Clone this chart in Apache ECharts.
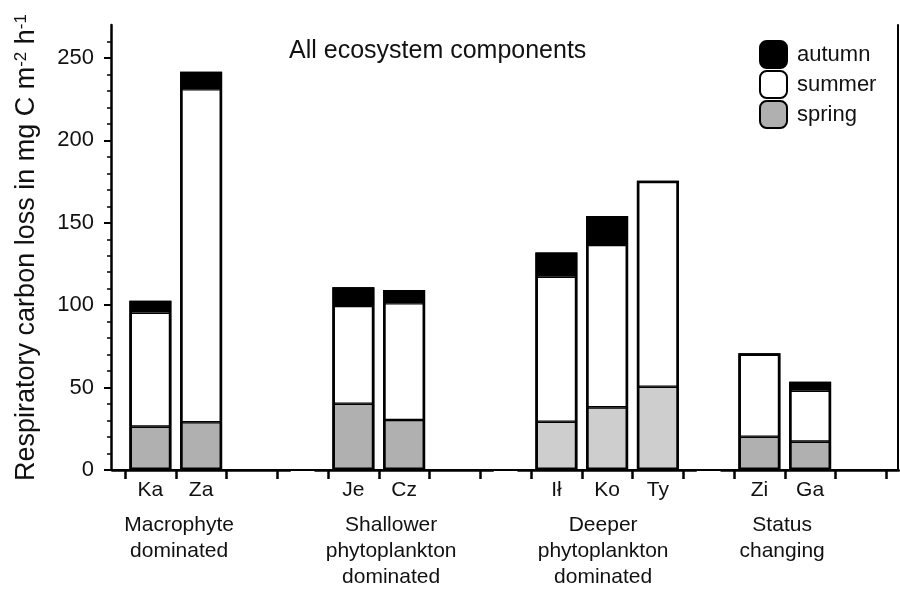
<!DOCTYPE html>
<html>
<head>
<meta charset="utf-8">
<script src="https://cdn.jsdelivr.net/npm/echarts@6/dist/echarts.min.js"></script>
<style>
html,body{margin:0;padding:0;background:#fff;}
#c{width:900px;height:590px;}
</style>
</head>
<body>
<div id="c"></div>
<script>
// ---- data ----
const lakes = ['Ka', 'Za', 'Je', 'Cz', 'Ił', 'Ko', 'Ty', 'Zi', 'Ga'];
const lakeGroup = [0, 0, 1, 1, 2, 2, 2, 3, 3];
const groupNames = ['Macrophyte\ndominated', 'Shallower\nphytoplankton\ndominated', 'Deeper\nphytoplankton\ndominated', 'Status\nchanging'];
const spring = [26.3, 29, 40.2, 30.3, 29.3, 38, 50.5, 20.2, 17.2];
const summer = [69.2, 202, 59.3, 70.9, 88, 98.5, 125, 50.6, 30.9];
const autumn = [7.2, 10.7, 11.4, 8, 14.6, 17.6, 0, 0, 5.5];
const seasons = ['autumn', 'summer', 'spring'];
const yTicks = [0, 50, 100, 150, 200, 250];
const yMinorTicks = [10, 20, 30, 40, 60, 70, 80, 90, 110, 120, 130, 140, 160, 170, 180, 190, 210, 220, 230, 240, 260];
const yMax = 270;
const title = 'All ecosystem components';

// ---- layout / style ----
const FONT = '"Liberation Sans", Arial, sans-serif';
const slotW = 50.75, firstTick = 125, plotTop = 25, plotBottom = 470, H = 590, W = 900;
const springColor = '#b0b0b0', springLight = '#cecece';
const nameShift = [44, 26, 8, 56];
const SUB = 7; // half-slot categories per group: tick, bar, tick, bar, tick, bar, tick
const segBorder = 1.3, outlineBorder = 2.6;

const chart = echarts.init(document.getElementById('c'), null, {renderer: 'canvas'});

const grids = [{left: 111, right: W - 898, top: plotTop, bottom: H - plotBottom, outerBoundsMode: 'none'}];
const xAxes = [{
  gridIndex: 0, type: 'value', position: 'top', min: 0, max: 1,
  axisLine: {show: true, lineStyle: {color: '#000', width: 2}},
  axisTick: {show: false}, axisLabel: {show: false}, splitLine: {show: false}
}];
const yAxes = [
  {
    gridIndex: 0, type: 'value', position: 'left', min: 0, max: yMax,
    axisLine: {show: true, lineStyle: {color: '#000', width: 2.5}},
    axisTick: {show: true, customValues: yTicks, length: 7, lineStyle: {color: '#000', width: 2}},
    axisLabel: {show: true, customValues: yTicks, margin: 17, color: '#111', fontSize: 22, fontFamily: FONT},
    splitLine: {show: false},
    name: '{a|Respiratory carbon loss in mg C m}{s|-2}{a| h}{s|-1}',
    nameLocation: 'middle', nameGap: 71,
    nameTextStyle: {
      color: '#111', fontFamily: FONT,
      rich: {
        a: {fontSize: 27, fontFamily: FONT, color: '#111'},
        s: {fontSize: 17, fontFamily: FONT, color: '#111', verticalAlign: 'top', padding: [0, 0, 10, 0]}
      }
    }
  },
  {
    gridIndex: 0, type: 'value', position: 'left', min: 0, max: yMax,
    axisLine: {show: false},
    axisTick: {show: true, customValues: yMinorTicks, length: 4, lineStyle: {color: '#000', width: 1.5}},
    axisLabel: {show: false}, splitLine: {show: false}
  },
  {
    gridIndex: 0, type: 'value', position: 'right', min: 0, max: yMax,
    axisLine: {show: true, lineStyle: {color: '#000', width: 2}},
    axisTick: {show: false}, axisLabel: {show: false}, splitLine: {show: false}
  }
];

const series = [];
const arrs = {spring: spring, summer: summer, autumn: autumn};
const totals = lakes.map((l, i) => spring[i] + summer[i] + autumn[i]);
for (let g = 0; g < groupNames.length; g++) {
  const gi = g + 1;
  const left = firstTick + 4 * g * slotW - 0.25 * slotW;
  grids.push({left: left, width: 3.5 * slotW, top: plotTop, bottom: H - plotBottom, outerBoundsMode: 'none'});
  const members = [];
  lakes.forEach((l, i) => { if (lakeGroup[i] === g) members.push(i); });
  const cats = [];
  for (let j = 0; j < SUB; j++) {
    const k = (j - 1) / 2;
    cats.push(j % 2 === 1 && members[k] !== undefined ? lakes[members[k]] : ' '.repeat(j + 1));
  }
  xAxes.push({
    gridIndex: gi, type: 'category', position: 'bottom', data: cats,
    axisLine: {show: true, onZero: false, lineStyle: {color: '#000', width: 2.5}},
    axisTick: {show: true, alignWithLabel: true, interval: (idx) => idx % 2 === 0, length: 9, lineStyle: {color: '#000', width: 2.5}},
    axisLabel: {show: true, interval: 0, margin: 10, color: '#111', fontSize: 21, fontFamily: FONT},
    splitLine: {show: false},
    name: groupNames[g], nameLocation: 'middle', nameGap: 42,
    nameTextStyle: {color: '#111', fontSize: 21, lineHeight: 26, fontFamily: FONT, padding: [0, nameShift[g], 0, 0]}
  });
  yAxes.push({gridIndex: gi, type: 'value', min: 0, max: yMax, show: false});
  const slotData = (fn) => {
    const data = [];
    for (let j = 0; j < SUB; j++) {
      const k = (j - 1) / 2;
      data.push(j % 2 === 1 && members[k] !== undefined ? fn(members[k]) : '-');
    }
    return data;
  };
  ['spring', 'summer', 'autumn'].forEach((s) => {
    series.push({
      name: s, type: 'bar', stack: 'g' + g, xAxisIndex: gi, yAxisIndex: gi + 2,
      barWidth: 42, barGap: '-100%',
      itemStyle: {
        color: s === 'spring' ? springColor : (s === 'summer' ? '#fff' : '#000'),
        borderColor: '#000', borderWidth: segBorder
      },
      data: slotData((i) => {
        const v = arrs[s][i];
        if (!v) return '-';
        const item = {value: v};
        if (s === 'spring' && g === 2) item.itemStyle = {color: springLight};
        return item;
      })
    });
  });
  // outline of the whole column
  series.push({
    name: 'outline', type: 'bar', xAxisIndex: gi, yAxisIndex: gi + 2,
    barWidth: 42, barGap: '-100%', z: 3, silent: true,
    itemStyle: {color: 'rgba(0,0,0,0)', borderColor: '#000', borderWidth: outlineBorder},
    data: slotData((i) => totals[i])
  });
}

chart.setOption({
  animation: false,
  backgroundColor: '#fff',
  title: {text: title, left: 289, top: 39, padding: 0, textStyle: {fontSize: 25, fontWeight: 'normal', color: '#111', fontFamily: FONT}},
  legend: {
    data: seasons, orient: 'vertical', left: 759, top: 40, padding: 0,
    itemWidth: 27, itemHeight: 27, itemGap: 1, icon: 'roundRect',
    textStyle: {fontSize: 22, lineHeight: 27, color: '#111', fontFamily: FONT, padding: [0, 0, 0, 5]},
    selectedMode: false
  },
  grid: grids,
  xAxis: xAxes,
  yAxis: yAxes,
  series: series
});
</script>
</body>
</html>
